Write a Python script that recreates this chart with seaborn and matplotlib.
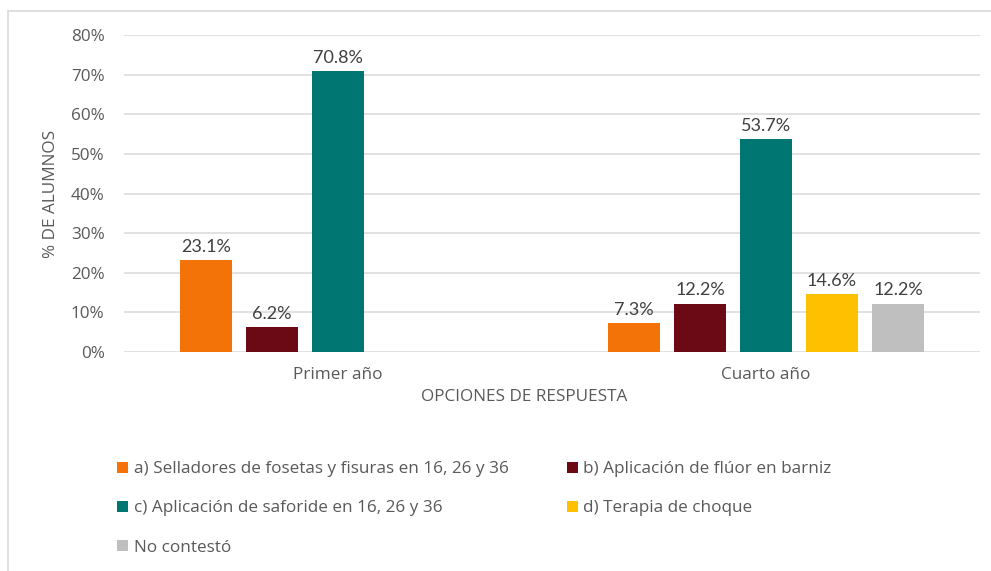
import matplotlib
matplotlib.use("Agg")
import matplotlib.pyplot as plt
from matplotlib.lines import Line2D
from matplotlib.patches import Patch
import seaborn as sns
import pandas as pd
import numpy as np

groups = ["Primer año", "Cuarto año"]
series = [
    "a) Selladores de fosetas y fisuras en 16, 26 y 36",
    "b) Aplicación de flúor en barniz",
    "c) Aplicación de saforide en 16, 26 y 36",
    "d) Terapia de choque",
    "No contestó",
]
primer = [23.1, 6.2, 70.8, np.nan, np.nan]
cuarto = [7.3, 12.2, 53.7, 14.6, 12.2]
colors = ["#F47308", "#6B0A14", "#007672", "#FFC000", "#BFBFBF"]
yticks = [0, 10, 20, 30, 40, 50, 60, 70, 80]

rows = []
for s, v1, v2 in zip(series, primer, cuarto):
    rows.append({"grupo": groups[0], "serie": s, "valor": v1})
    rows.append({"grupo": groups[1], "serie": s, "valor": v2})
df = pd.DataFrame(rows)

sns.set_theme(style="white")
plt.rcParams["font.family"] = ["Open Sans", "DejaVu Sans"]
FS = 12.3
TXT = "#595959"

W, H = 991, 571
fig = plt.figure(figsize=(W / 100, H / 100), dpi=100)
ax = fig.add_axes([124 / W, 1 - 352 / H, (980 - 124) / W, (352 - 35) / H])

sns.barplot(data=df, x="grupo", y="valor", hue="serie", order=groups,
            hue_order=series, palette=colors, width=0.771, gap=0.21,
            linewidth=0, saturation=1, ax=ax, legend=False, errorbar=None)

ax.set_xlim(-0.5, 1.5)
ax.set_ylim(0, 80)
ax.set_yticks(yticks)
ax.set_yticklabels([f"{t}%" for t in yticks])
ax.yaxis.grid(True, color="#D9D9D9", linewidth=1.1)
ax.set_axisbelow(True)
for sp in ax.spines.values():
    sp.set_visible(False)
ax.tick_params(axis="both", length=0, labelsize=FS, colors=TXT)
ax.tick_params(axis="y", pad=14)
ax.tick_params(axis="x", pad=11)

ax.set_xlabel("OPCIONES DE RESPUESTA", fontsize=FS, color=TXT)
ax.set_ylabel("% DE ALUMNOS", fontsize=FS, color=TXT)
ax.xaxis.set_label_coords(0.468, -0.118)
ax.yaxis.set_label_coords(-0.076, 0.5)

for cont in ax.containers:
    labels = []
    for v in cont.datavalues:
        labels.append("" if (v is None or np.isnan(v) or v == 0) else f"{v:.1f}%")
    ax.bar_label(cont, labels=labels, padding=4, fontsize=13, color="#404040",
                 family=["Lato", "DejaVu Sans"])

handles = [Patch(facecolor=c, edgecolor="none") for c in colors]
order = [0, 2, 4, 1, 3]
fig.legend([handles[i] for i in order], [series[i] for i in order],
           ncol=2, loc="upper left", bbox_to_anchor=(102 / W, 1 - 446 / H),
           frameon=False, fontsize=FS, labelcolor=TXT,
           handlelength=0.65, handleheight=0.65, handletextpad=0.3,
           columnspacing=3.4, labelspacing=1.35)

# figure border (top and left)
fig.add_artist(Line2D([8 / W, 1], [1 - 11 / H, 1 - 11 / H], color="#D9D9D9",
                      linewidth=1.2, transform=fig.transFigure))
fig.add_artist(Line2D([8 / W, 8 / W], [0, 1 - 11 / H], color="#D9D9D9",
                      linewidth=1.2, transform=fig.transFigure))

fig.savefig("out.png", dpi=100, facecolor="white")
